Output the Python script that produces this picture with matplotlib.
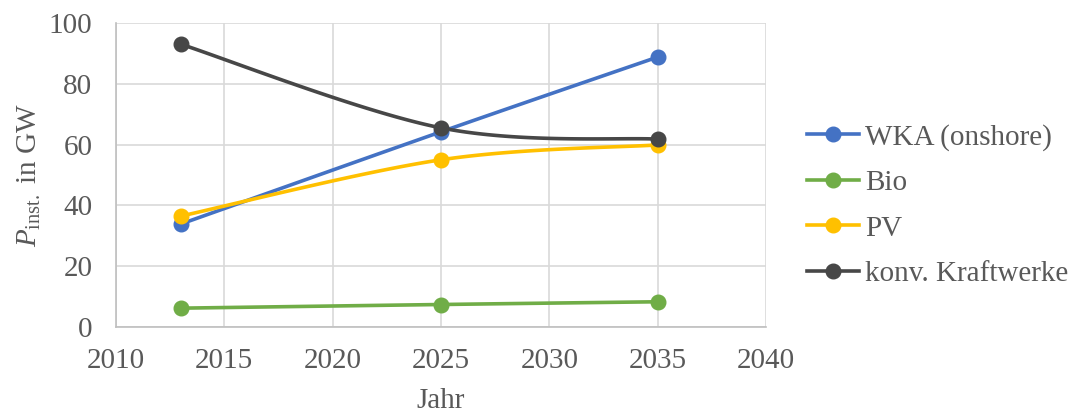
import matplotlib
matplotlib.use("Agg")
import matplotlib.pyplot as plt
import numpy as np

plt.rcParams["font.family"] = ["Liberation Serif", "DejaVu Serif"]
plt.rcParams["mathtext.fontset"] = "custom"
plt.rcParams["mathtext.rm"] = "Liberation Serif"
plt.rcParams["mathtext.it"] = "Liberation Serif:italic"

# data
years = [2013, 2025, 2035]
wka = [33.9, 64.2, 88.8]
bio = [6.2, 7.4, 8.3]
pv = [36.5, 55.0, 59.9]
konv = [93.0, 65.5, 61.8]

series = [
    ("WKA (onshore)", wka, "#4472C4"),
    ("Bio", bio, "#70AD47"),
    ("PV", pv, "#FFC000"),
    ("konv. Kraftwerke", konv, "#474747"),
]

txt = "#595959"
fs = 21


def smooth(x, y, n=60):
    """Excel-like smoothed line (Catmull-Rom through the points)"""
    x = np.asarray(x, float)
    y = np.asarray(y, float)
    px = np.concatenate([[x[0]], x, [x[-1]]])
    py = np.concatenate([[y[0]], y, [y[-1]]])
    xs, ys = [], []
    for i in range(1, len(px) - 2):
        p0, p1, p2, p3 = (np.array([px[j], py[j]]) for j in (i - 1, i, i + 1, i + 2))
        c1 = p1 + (p2 - p0) / 6
        c2 = p2 - (p3 - p1) / 6
        t = np.linspace(0, 1, n)[:, None]
        b = (1 - t) ** 3 * p1 + 3 * (1 - t) ** 2 * t * c1 + 3 * (1 - t) * t ** 2 * c2 + t ** 3 * p2
        xs.append(b[:, 0])
        ys.append(b[:, 1])
    return np.concatenate(xs), np.concatenate(ys)


fig = plt.figure(figsize=(10.76, 4.12), dpi=100)
ax = fig.add_axes([0.1078, 0.2063, 0.6041, 0.7379])

for name, vals, col in series:
    sx, sy = smooth(years, vals)
    ax.plot(sx, sy, color=col, lw=2.6, solid_capstyle="round", zorder=3)
    ax.plot(years, vals, "o", color=col, ms=10.5, zorder=4)
    ax.plot([], [], "-o", color=col, lw=2.6, ms=10.5, label=name)

ax.set_xlim(2010, 2040)
ax.set_ylim(0, 100)
ax.set_xticks(np.arange(2010, 2041, 5))
ax.set_yticks(np.arange(0, 101, 20))
ax.grid(True, color="#d9d9d9", lw=1.2)
ax.set_axisbelow(True)
for s in ["top", "right"]:
    ax.spines[s].set_visible(False)
for s in ["left", "bottom"]:
    ax.spines[s].set_color("#bfbfbf")
    ax.spines[s].set_linewidth(1.2)
ax.tick_params(length=0, labelsize=fs, colors=txt)
ax.tick_params(axis="y", pad=17)
ax.tick_params(axis="x", pad=15)

ax.set_xlabel("Jahr", fontsize=fs, color=txt, labelpad=10)
ax.set_ylabel(r"$P_{\mathrm{inst.}}$ in GW", fontsize=fs, color=txt, labelpad=4)

ax.legend(loc="center left", bbox_to_anchor=(1.045, 0.40), frameon=False,
          fontsize=fs, labelcolor=txt, handlelength=1.8, handletextpad=0.2,
          labelspacing=0.65, borderaxespad=0)

fig.savefig("out.png", dpi=100)
